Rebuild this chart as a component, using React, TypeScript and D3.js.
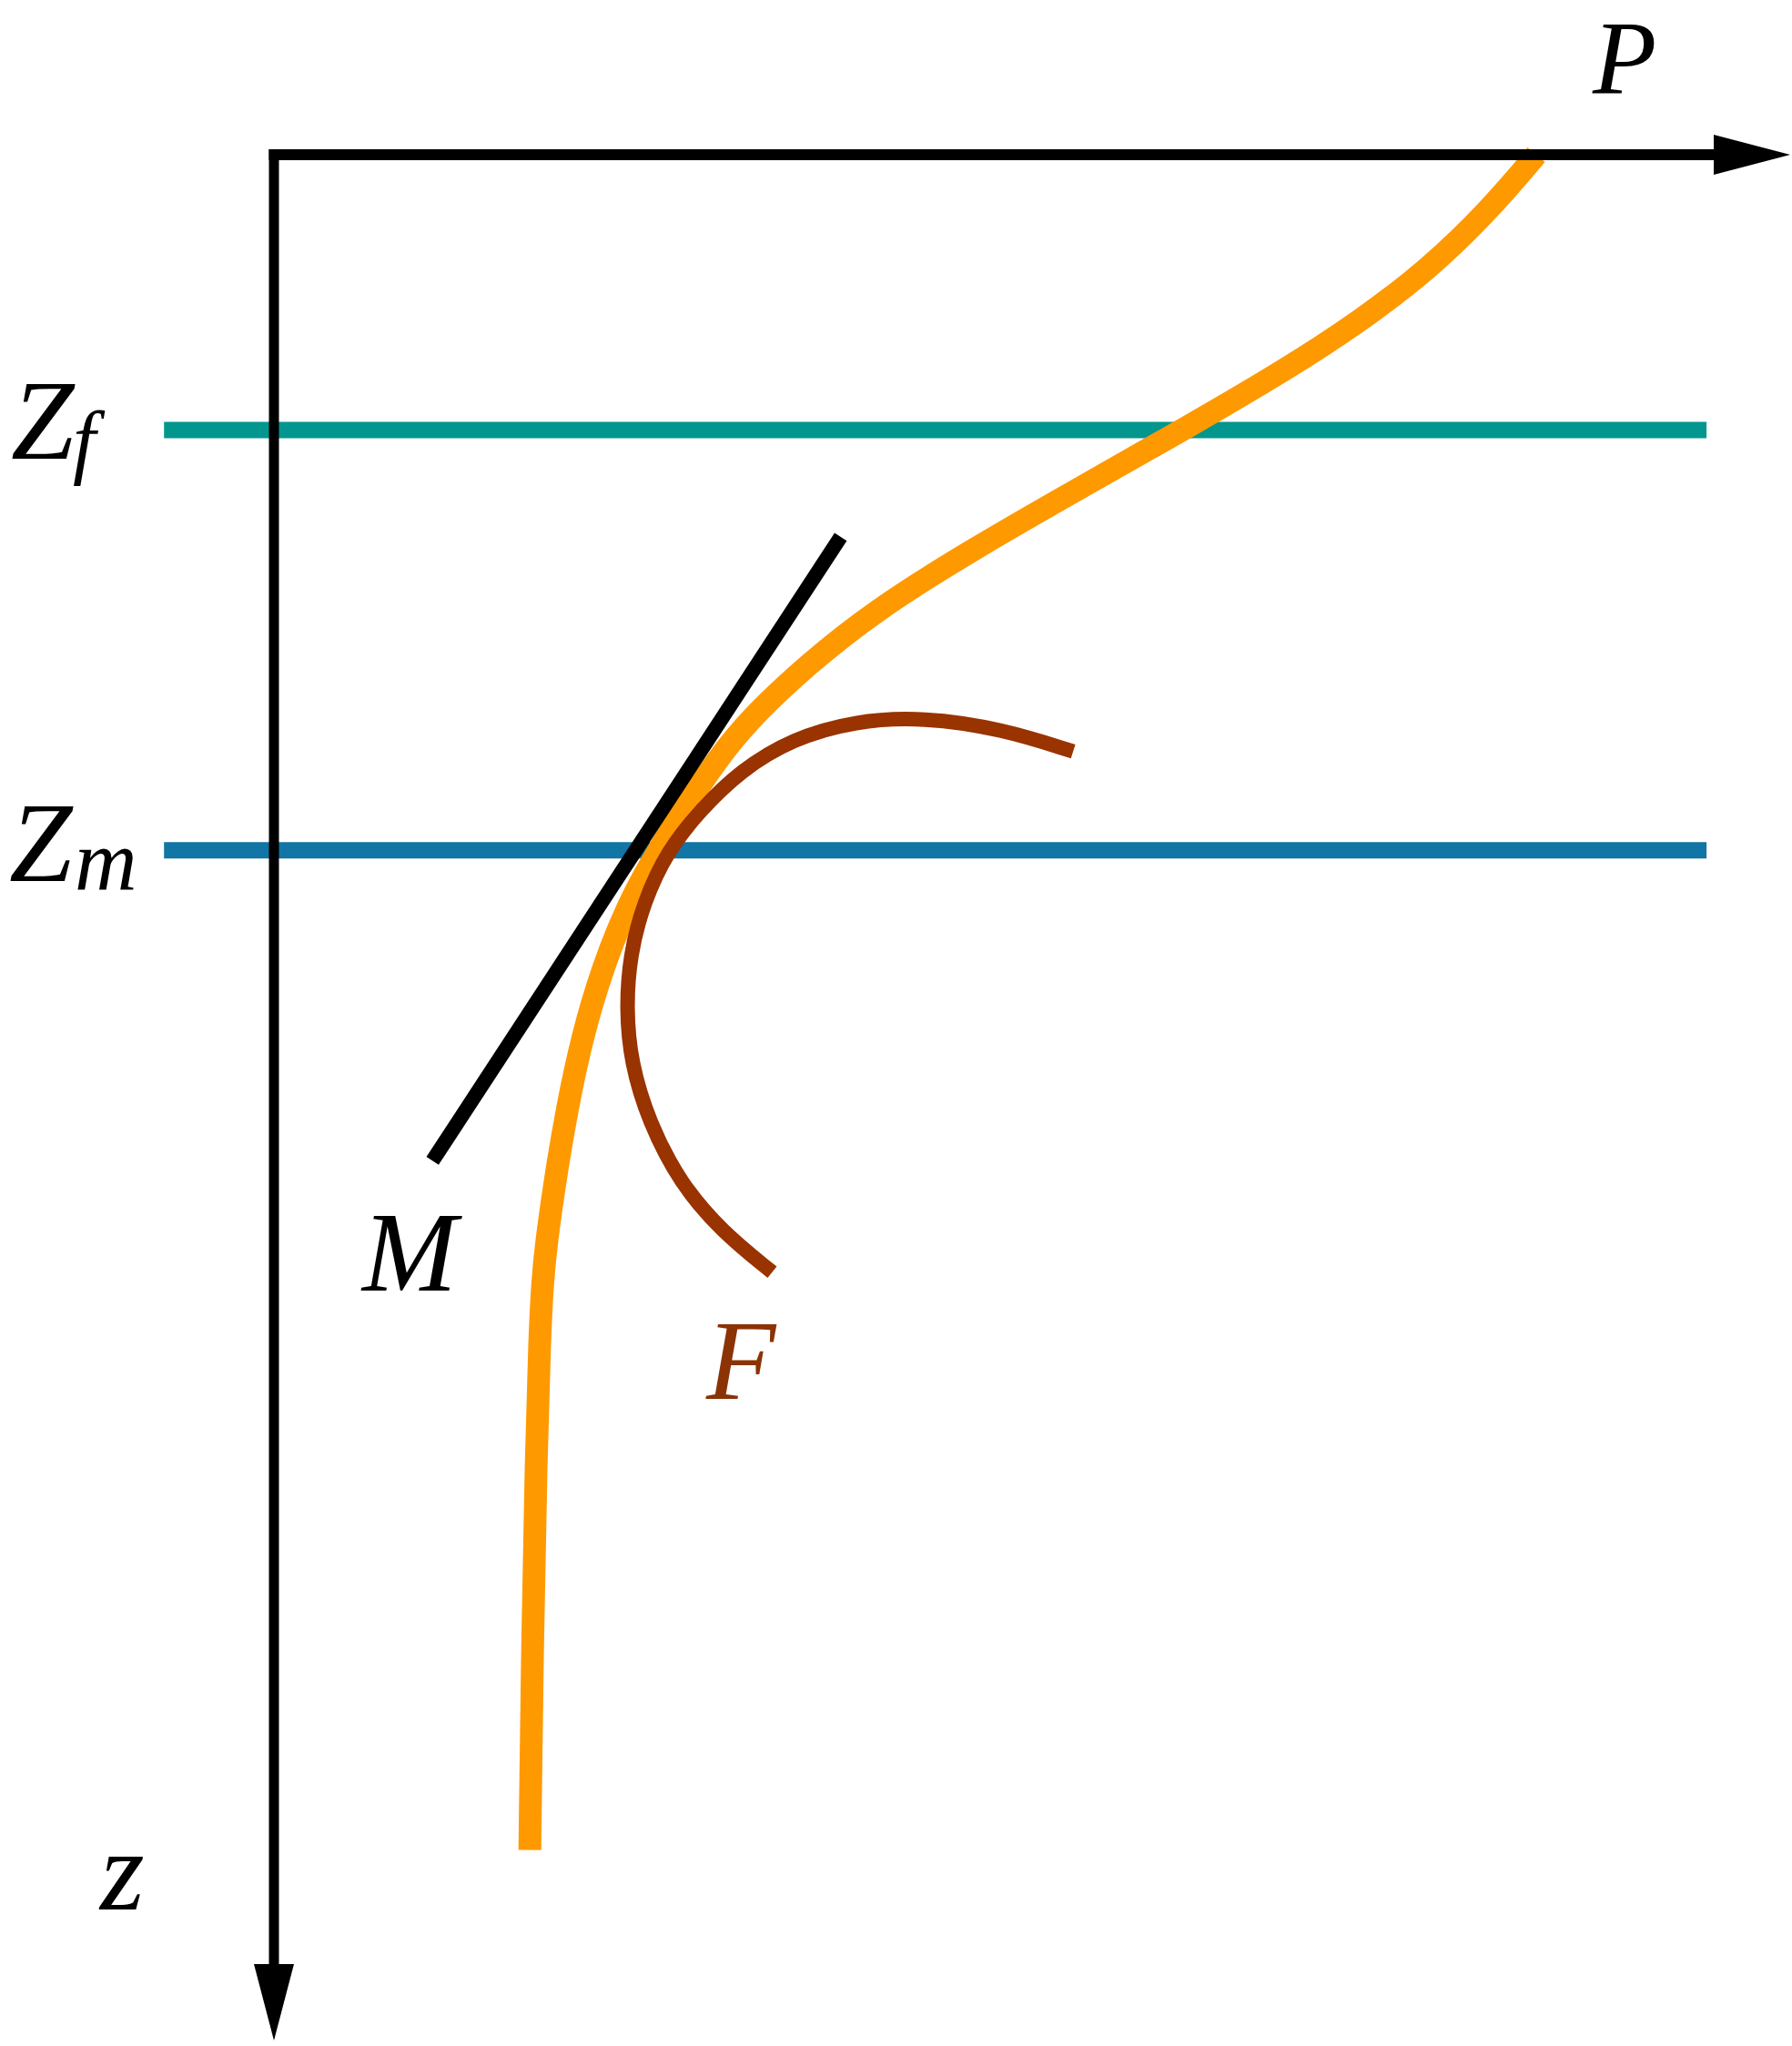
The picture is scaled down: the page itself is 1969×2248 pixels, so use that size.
import React from "react";
import * as d3 from "d3";

// Profile P(z): orange curve (P, z) in chart units
const profileP = [14.01, 13.48, 12.81, 12.04, 11.22, 10.19, 8.98, 7.75, 6.66, 5.91, 5.27, 4.91, 4.54, 4.21, 3.92, 3.65, 3.42, 3.25, 3.13, 3.02, 2.98, 2.95, 2.91, 2.87, 2.84];
const profileZ = [0, 0.62, 1.27, 1.85, 2.38, 2.98, 3.66, 4.36, 5.04, 5.64, 6.24, 6.69, 7.24, 7.77, 8.3, 8.97, 9.74, 10.55, 11.26, 12.03, 12.46, 13.04, 14.37, 16.38, 18.72];

// Curve F (brown arc)
const fP = [8.87, 8.08, 7.21, 6.45, 5.75, 5.18, 4.74, 4.37, 4.1, 3.95, 3.91, 3.96, 4.16, 4.51, 4.97, 5.53];
const fZ = [6.59, 6.34, 6.21, 6.25, 6.45, 6.8, 7.23, 7.68, 8.26, 8.84, 9.43, 10.02, 10.68, 11.36, 11.89, 12.34];

// Line M (black tangent)
const mP = [6.29, 1.76];
const mZ = [4.22, 11.11];

// Horizontal levels
const levelNames = ["f", "m"];
const levelZ = [3.04, 7.68];
const levelColors = ["#03968f", "#1175a5"];
const levelPRange = [-1.22, 15.9];

const W = 1969;
const H = 2248;

const x = d3.scaleLinear().domain([0, 16]).range([301, 1885]);
const y = d3.scaleLinear().domain([0, 20]).range([170, 2160]);

const font = "'Liberation Serif', 'DejaVu Serif', serif";

export default function App() {
  const smooth = d3
    .line<[number, number]>()
    .x((d) => x(d[0]))
    .y((d) => y(d[1]))
    .curve(d3.curveBasis);
  const straight = d3
    .line<[number, number]>()
    .x((d) => x(d[0]))
    .y((d) => y(d[1]));

  const profile = profileP.map((p, i) => [p, profileZ[i]] as [number, number]);
  const fCurve = fP.map((p, i) => [p, fZ[i]] as [number, number]);
  const mLine = mP.map((p, i) => [p, mZ[i]] as [number, number]);

  const ox = x(0);
  const oy = y(0);
  const xEnd = x(16);
  const yEnd = y(20);
  const headLen = 82;
  const headHalf = 22;

  return (
    <svg
      width={W}
      height={H}
      viewBox={`0 0 ${W} ${H}`}
      style={{ position: "absolute", left: 0, top: 0, background: "#fff" }}
    >
      <rect x={0} y={0} width={W} height={H} fill="#fff" />
      {levelZ.map((z, i) => (
        <line
          key={levelNames[i]}
          x1={x(levelPRange[0])}
          x2={x(levelPRange[1])}
          y1={y(z)}
          y2={y(z)}
          stroke={levelColors[i]}
          strokeWidth={18}
        />
      ))}
      <path d={smooth(profile) || ""} fill="none" stroke="#ff9900" strokeWidth={25} />
      <path d={smooth(fCurve) || ""} fill="none" stroke="#993300" strokeWidth={16} />
      <path d={straight(mLine) || ""} fill="none" stroke="#000" strokeWidth={16} />

      {/* axes */}
      <line x1={ox - 5.5} x2={xEnd} y1={oy} y2={oy} stroke="#000" strokeWidth={12} />
      <path
        d={`M${xEnd - 2},${oy - headHalf} L${xEnd + headLen},${oy} L${xEnd - 2},${oy + headHalf} Z`}
        fill="#000"
      />
      <line x1={ox} x2={ox} y1={oy - 6} y2={yEnd} stroke="#000" strokeWidth={11} />
      <path
        d={`M${ox - headHalf},${yEnd - 2} L${ox},${yEnd + headLen} L${ox + headHalf},${yEnd - 2} Z`}
        fill="#000"
      />

      {/* labels */}
      <text x={1750} y={102} fontFamily={font} fontStyle="italic" fontSize={115} fill="#000">
        P
      </text>
      <text x={110} y={2098} fontFamily={font} fontStyle="italic" fontSize={125} fill="#000">
        z
      </text>
      <text x={12} y={504} fontFamily={font} fontStyle="italic" fontSize={125} fill="#000">
        Z
      </text>
      <text x={80} y={515} fontFamily={font} fontStyle="italic" fontSize={90} fill="#000">
        f
      </text>
      <text x={10} y={968} fontFamily={font} fontStyle="italic" fontSize={125} fill="#000">
        Z
      </text>
      <text x={82} y={978} fontFamily={font} fontStyle="italic" fontSize={95} fill="#000">
        m
      </text>
      <text x={398} y={1418} fontFamily={font} fontStyle="italic" fontSize={125} fill="#000">
        M
      </text>
      <text x={776} y={1537} fontFamily={font} fontStyle="italic" fontSize={125} fill="#8b3305">
        F
      </text>
    </svg>
  );
}
